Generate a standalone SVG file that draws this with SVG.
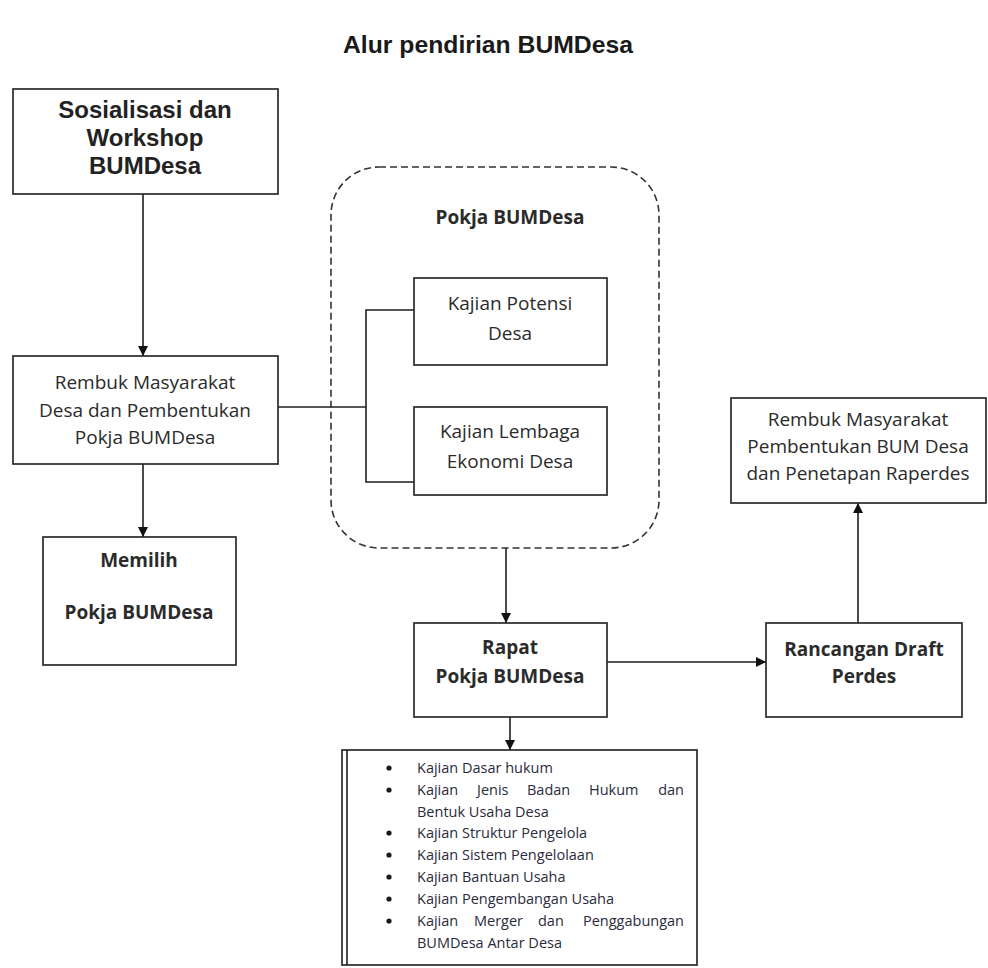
<svg xmlns="http://www.w3.org/2000/svg" width="988" height="968" viewBox="0 0 988 968">
<style>
.box{fill:#fff;stroke:#2a2a2a;stroke-width:1.7}
.dash{fill:none;stroke:#333;stroke-width:1.6;stroke-dasharray:7 4}
.ln{fill:none;stroke:#1e1e1e;stroke-width:1.6}
.t{font-family:"Open Sans","Noto Sans",sans-serif;font-size:19px;fill:#2b2b2b;text-anchor:middle}
.tb{font-family:"Open Sans","Noto Sans",sans-serif;font-size:19px;font-weight:bold;fill:#2b2b2b;text-anchor:middle}
.ta{font-family:"Liberation Sans",Arial,sans-serif;font-size:24px;font-weight:bold;fill:#222;text-anchor:middle}
.s{font-family:"Open Sans","Noto Sans",sans-serif;font-size:14.5px;fill:#2b2b3b}
.b{fill:#1a1a1a}
</style>
<defs>
<marker id="ah" viewBox="0 0 10 10" refX="10" refY="5" markerWidth="10" markerHeight="10" markerUnits="userSpaceOnUse" orient="auto">
<path d="M0,0 L10,5 L0,10 z" fill="#111"/>
</marker>
</defs>
<rect width="988" height="968" fill="#fff"/>
<text x="488" y="53" font-family="'Liberation Sans Narrow','Liberation Sans',Arial,sans-serif" font-size="24" font-weight="bold" fill="#1a1a1a" text-anchor="middle" textLength="290" lengthAdjust="spacingAndGlyphs">Alur pendirian BUMDesa</text>

<g id="connectors">
<line class="ln" x1="143" y1="194" x2="143" y2="356" marker-end="url(#ah)"/>
<line class="ln" x1="143" y1="464" x2="143" y2="537" marker-end="url(#ah)"/>
<polyline class="ln" points="277,407 366,407"/>
<polyline class="ln" points="414,310 366,310 366,482 414,482"/>
<line class="ln" x1="506" y1="548" x2="506" y2="623" marker-end="url(#ah)"/>
<line class="ln" x1="607" y1="662" x2="766" y2="662" marker-end="url(#ah)"/>
<line class="ln" x1="858" y1="623" x2="858" y2="503" marker-end="url(#ah)"/>
<line class="ln" x1="510" y1="717" x2="510" y2="750" marker-end="url(#ah)"/>
</g>

<g id="sosialisasi">
<rect class="box" x="13" y="89" width="265" height="105"/>
<text class="ta" x="145" y="118">Sosialisasi dan</text>
<text class="ta" x="145" y="146">Workshop</text>
<text class="ta" x="145" y="174">BUMDesa</text>
</g>

<g id="rembuk-desa">
<rect class="box" x="13" y="356" width="265" height="108"/>
<text class="t" x="145" y="389">Rembuk Masyarakat</text>
<text class="t" x="145" y="417">Desa dan Pembentukan</text>
<text class="t" x="145" y="444">Pokja BUMDesa</text>
</g>

<g id="memilih">
<rect class="box" x="43" y="537" width="193" height="128"/>
<text class="tb" x="139" y="567">Memilih</text>
<text class="tb" x="139" y="619">Pokja BUMDesa</text>
</g>

<g id="pokja-group">
<rect class="dash" x="331" y="167" width="328" height="381" rx="48" ry="48"/>
<text class="tb" x="510" y="224">Pokja BUMDesa</text>
</g>

<g id="kajian-potensi">
<rect class="box" x="414" y="278" width="193" height="87"/>
<text class="t" x="510" y="310">Kajian Potensi</text>
<text class="t" x="510" y="340">Desa</text>
</g>

<g id="kajian-lembaga">
<rect class="box" x="414" y="407" width="193" height="88"/>
<text class="t" x="510" y="438">Kajian Lembaga</text>
<text class="t" x="510" y="468">Ekonomi Desa</text>
</g>

<g id="rapat">
<rect class="box" x="414" y="623" width="193" height="94"/>
<text class="tb" x="510" y="654">Rapat</text>
<text class="tb" x="510" y="683">Pokja BUMDesa</text>
</g>

<g id="rancangan">
<rect class="box" x="766" y="623" width="196" height="94"/>
<text class="tb" x="864" y="656">Rancangan Draft</text>
<text class="tb" x="864" y="683">Perdes</text>
</g>

<g id="rembuk-pembentukan">
<rect class="box" x="731" y="398" width="255" height="105"/>
<text class="t" x="858" y="426">Rembuk Masyarakat</text>
<text class="t" x="858" y="453">Pembentukan BUM Desa</text>
<text class="t" x="858" y="480">dan Penetapan Raperdes</text>
</g>

<g id="kajian-list">
<rect class="box" x="342" y="750" width="355" height="215"/>
<line class="ln" x1="347" y1="750" x2="347" y2="965"/>
<g class="b">
<circle cx="389" cy="768" r="2.6"/>
<circle cx="389" cy="790" r="2.6"/>
<circle cx="389" cy="833" r="2.6"/>
<circle cx="389" cy="855" r="2.6"/>
<circle cx="389" cy="877" r="2.6"/>
<circle cx="389" cy="899" r="2.6"/>
<circle cx="389" cy="921" r="2.6"/>
</g>
<g class="s">
<text x="417" y="773">Kajian Dasar hukum</text>
<text x="417" y="795">Kajian</text><text x="477" y="795">Jenis</text><text x="527" y="795">Badan</text><text x="589" y="795">Hukum</text><text x="684" y="795" text-anchor="end">dan</text>
<text x="417" y="817">Bentuk Usaha Desa</text>
<text x="417" y="838">Kajian Struktur Pengelola</text>
<text x="417" y="860">Kajian Sistem Pengelolaan</text>
<text x="417" y="882">Kajian Bantuan Usaha</text>
<text x="417" y="904">Kajian Pengembangan Usaha</text>
<text x="417" y="926">Kajian</text><text x="474" y="926">Merger</text><text x="538" y="926">dan</text><text x="684" y="926" text-anchor="end">Penggabungan</text>
<text x="417" y="948">BUMDesa Antar Desa</text>
</g>
</g>
</svg>
